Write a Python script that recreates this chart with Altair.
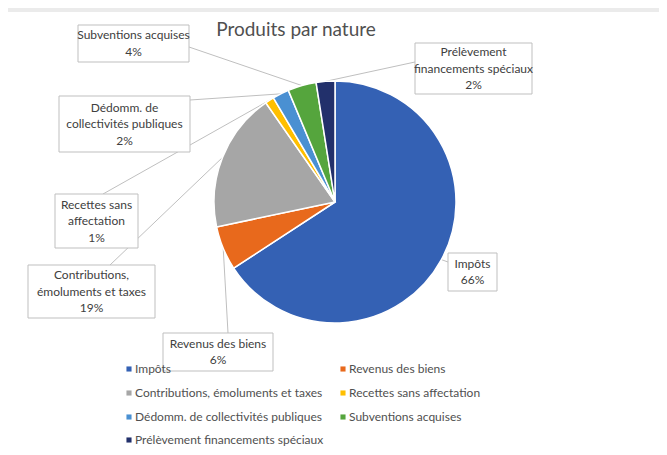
import math
import altair as alt
import pandas as pd

# ---- data ----
categories = [
    "Impôts",
    "Revenus des biens",
    "Contributions, émoluments et taxes",
    "Recettes sans affectation",
    "Dédomm. de collectivités publiques",
    "Subventions acquises",
    "Prélèvement financements spéciaux",
]
values = [65.8, 5.9, 18.6, 1.2, 2.2, 3.8, 2.5]
pct_labels = ["66%", "6%", "19%", "1%", "2%", "4%", "2%"]
callout_names = [
    "Impôts",
    "Revenus des biens",
    "Contributions,\némoluments et taxes",
    "Recettes sans\naffectation",
    "Dédomm. de\ncollectivités publiques",
    "Subventions acquises",
    "Prélèvement\nfinancements spéciaux",
]
colors = ["#3461B4", "#E8691C", "#A6A6A6", "#FFBF00", "#4A90D2", "#55A53D", "#22306B"]
title_text = "Produits par nature"

# ---- layout (page pixels, shifted by the 8px page margin) ----
OFF = 8
W, H = 651, 439
CX, CY, R = 335 - OFF, 202 - OFF, 121
FONT = "Lato"
TXT = "#404040"
LH = 16.5
boxes = [  # x0, y0, x1, y1
    (448, 253, 497, 291),
    (163, 333, 273, 371),
    (28, 265, 155, 318),
    (55, 194, 138, 248),
    (59, 96, 190, 152),
    (78, 25, 189, 62),
    (415, 43, 532, 94),
]
anchors = [(448, 262), (228, 333), (110, 265), (103, 194), (190, 100), (189, 47), (415, 62)]
leg_col_x = [129, 343]
leg_row_y = [369, 393, 417, 440]

total = sum(values)
rows = []
cum = 0.0
for i, (c, v) in enumerate(zip(categories, values)):
    mid = (cum + v / 2) / total * 2 * math.pi
    cum += v
    bx0, by0, bx1, by1 = [b - OFF for b in boxes[i]]
    ax, ay = anchors[i]
    label = callout_names[i] + "\n" + pct_labels[i]
    n = label.count("\n") + 1
    rows.append(
        dict(
            idx=i,
            cat=c,
            value=v,
            label=label,
            bx0=bx0, by0=by0, bx1=bx1, by1=by1,
            bcx=(bx0 + bx1) / 2, bty=(by0 + by1) / 2 - (n - 1) * LH / 2,
            lx=ax - OFF, ly=ay - OFF,
            ex=CX + R * math.sin(mid), ey=CY - R * math.cos(mid),
            sx=leg_col_x[i % 2] - OFF, sy=leg_row_y[i // 2] - OFF,
            tx=leg_col_x[i % 2] - OFF + 6,
        )
    )
df = pd.DataFrame(rows)

color = alt.Color("cat:N", scale=alt.Scale(domain=categories, range=colors), legend=None)
base = alt.Chart(df)


def X(f):
    return alt.X(f, type="quantitative", scale=None, axis=None)


def Y(f):
    return alt.Y(f, type="quantitative", scale=None, axis=None)


strip = alt.Chart(pd.DataFrame({"a": [0]})).mark_rect(color="#EBEBEB").encode(
    x=alt.value(0), x2=alt.value(W), y=alt.value(0), y2=alt.value(4)
)

leaders = base.mark_rule(color="#BFBFBF", strokeWidth=1).encode(
    x=X("lx"), y=Y("ly"), x2="ex:Q", y2="ey:Q"
)

pie = base.mark_arc(outerRadius=R, stroke="white", strokeWidth=1.5).encode(
    theta=alt.Theta("value:Q", stack=True),
    order=alt.Order("idx:Q"),
    color=color,
    x=alt.value(CX),
    y=alt.value(CY),
)

box = base.mark_rect(fill="white", stroke="#BFBFBF", strokeWidth=1).encode(
    x=X("bx0"), x2="bx1:Q", y=Y("by0"), y2="by1:Q"
)

box_text = base.mark_text(
    font=FONT, fontSize=12, color=TXT, align="center", baseline="middle",
    lineBreak="\n", lineHeight=LH,
).encode(x=X("bcx"), y=Y("bty"), text="label:N")

title = alt.Chart(pd.DataFrame({"t": [title_text]})).mark_text(
    font=FONT, fontSize=19, color="#505050", align="center", baseline="middle"
).encode(x=alt.value(296 - OFF), y=alt.value(30 - OFF), text="t:N")

leg_sym = base.mark_square(size=26, opacity=1).encode(x=X("sx"), y=Y("sy"), color=color)
leg_txt = base.mark_text(
    font=FONT, fontSize=12, color="#505050", align="left", baseline="middle"
).encode(x=X("tx"), y=Y("sy"), text="cat:N")

chart = (
    alt.layer(strip, leaders, pie, box, box_text, title, leg_sym, leg_txt)
    .properties(width=W, height=H, autosize=alt.AutoSizeParams(type="none"), padding=0, background="white")
    .configure_view(stroke=None)
)

chart.save("out.html", embed_options={"renderer": "svg", "actions": False})
